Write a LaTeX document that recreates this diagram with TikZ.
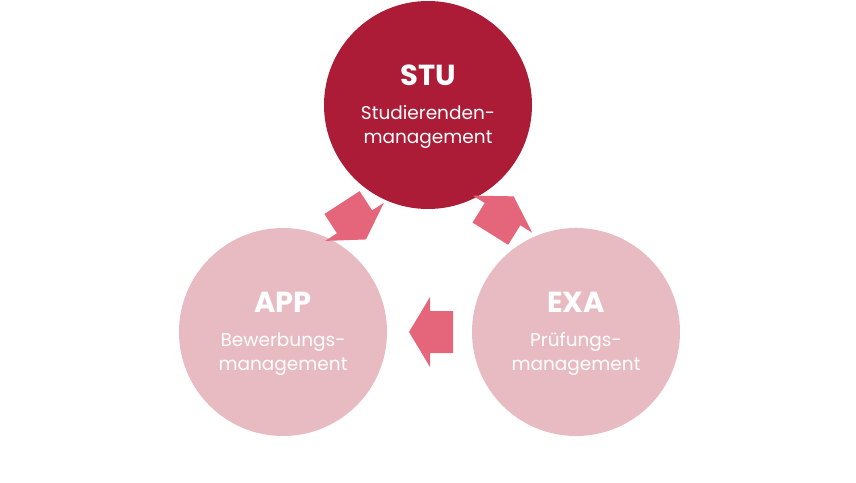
\documentclass[tikz,border=0pt]{standalone}
\usepackage{fontspec}
\setmainfont{Poppins}
\usetikzlibrary{positioning}
\definecolor{stured}{HTML}{AD1C36}
\definecolor{lightrose}{HTML}{E8BBC3}
\definecolor{arrowrose}{HTML}{E5657B}
\tikzset{
  module/.style={circle,minimum size=208pt,inner sep=0pt,text=white,align=center},
  title/.style={text=white,font=\bfseries\fontsize{29}{32}\selectfont},
  subtitle/.style={text=white,align=center,font=\fontsize{18.5}{24}\selectfont}
}
\newcommand{\flowarrow}[2]{% position, angle
  \fill[arrowrose,shift={#1},rotate=#2]
    (-22,-21) -- (1,-21) -- (1,-35) -- (22,0) -- (1,35) -- (1,21) -- (-22,21) -- cycle;}
\begin{document}
\begin{tikzpicture}[x=1pt,y=-1pt]
  \useasboundingbox (0,0) rectangle (856,482);
  % the three modules
  \node[module,fill=stured] (stu) at (428,105) {};
  \node[module,fill=lightrose] (app) at (283,332) {};
  \node[module,fill=lightrose] (exa) at (576,332) {};
  \node[title] (stut) at (428,75) {STU};
  \node[subtitle] (stus) at (428,127) {Studierenden-\\management};
  \node[title] (appt) at (283,302) {APP};
  \node[subtitle] (apps) at (283,354) {Bewerbungs-\\management};
  \node[title] (exat) at (576,302) {EXA};
  \node[subtitle] (exas) at (576,354) {Prüfungs-\\management};
  % flow arrows
  \flowarrow{(354,221)}{-57}
  \flowarrow{(502,215)}{58}
  \flowarrow{(431,332)}{180}
\end{tikzpicture}
\end{document}
